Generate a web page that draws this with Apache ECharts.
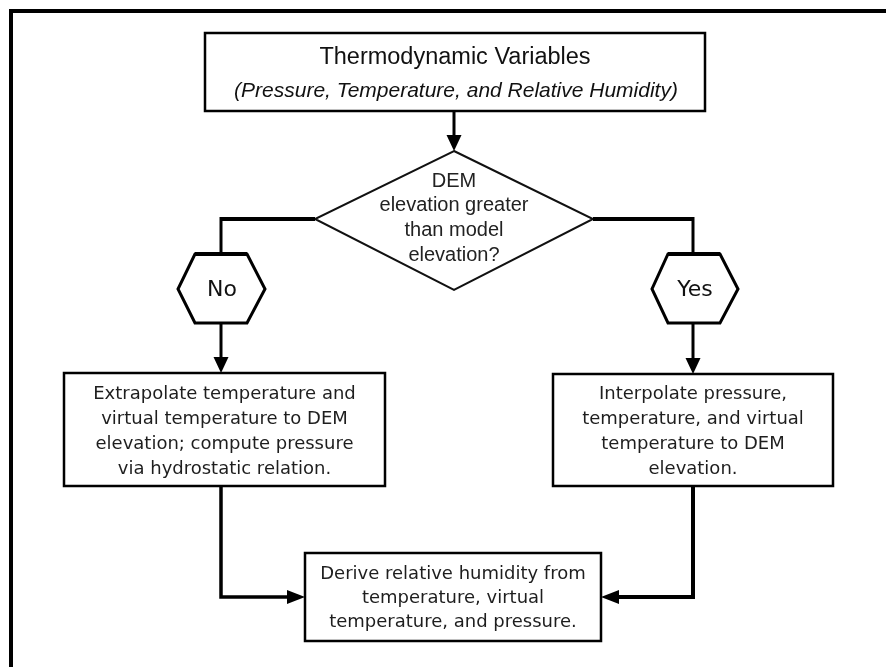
<!DOCTYPE html>
<html>
<head>
<meta charset="utf-8">
<script src="https://cdn.jsdelivr.net/npm/echarts@6/dist/echarts.min.js"></script>
<style>html,body{margin:0;padding:0;background:#fff}#c{width:886px;height:667px}</style>
</head>
<body>
<div id="c"></div>
<script>
// ---- content (text of the flowchart) ----
const titleLines = ['Thermodynamic Variables', '(Pressure, Temperature, and Relative Humidity)'];
const decisionLines = ['DEM', 'elevation greater', 'than model', 'elevation?'];
const branchLabels = ['No', 'Yes'];
const leftStepLines = ['Extrapolate temperature and', 'virtual temperature to DEM', 'elevation; compute pressure', 'via hydrostatic relation.'];
const rightStepLines = ['Interpolate pressure,', 'temperature, and virtual', 'temperature to DEM', 'elevation.'];
const finalStepLines = ['Derive relative humidity from', 'temperature, virtual', 'temperature, and pressure.'];

// ---- layout (pixels) ----
const L = {
  top: {x: 205, y: 33, w: 500, h: 78},
  dia: {cx: 454, top: 151, bottom: 290, left: 315, right: 593, cy: 219},
  no: {cx: 221, top: 254, bottom: 323, l: 178, r: 265, tl: 195, tr: 247, cy: 289},
  yes: {cx: 693, top: 254, bottom: 323, l: 652, r: 738, tl: 668, tr: 720, cy: 289},
  lbox: {x: 64, y: 373, w: 321, h: 113},
  rbox: {x: 553, y: 374, w: 280, h: 112},
  fbox: {x: 305, y: 553, w: 296, h: 88},
  joinY: 597
};
const BODY = '18px "DejaVu Sans", Verdana, sans-serif';
const INK = '#000';
const TXT = '#1e1e1e';

const els = [];
function line(pts, w) { els.push({type: 'polyline', shape: {points: pts}, style: {stroke: INK, lineWidth: w, fill: null, lineJoin: 'miter'}, silent: true}); }
function tri(pts) { els.push({type: 'polygon', shape: {points: pts}, style: {fill: INK, stroke: null}, silent: true}); }
function box(b, w) { els.push({type: 'rect', shape: {x: b.x, y: b.y, width: b.w, height: b.h}, style: {fill: '#fff', stroke: INK, lineWidth: w}, silent: true}); }
function text(str, x, y, font, color) {
  els.push({type: 'text', x: x, y: y, style: {text: str, font: font, fill: color || TXT, align: 'center', verticalAlign: 'middle', textAlign: 'center', textVerticalAlign: 'middle'}, silent: true});
}
function lines(arr, cx, y0, step, font, color) { arr.forEach((s, i) => text(s, cx, y0 + i * step, font, color)); }
function hex(h) {
  els.push({type: 'polygon', shape: {points: [[h.tl, h.top], [h.tr, h.top], [h.r, h.cy], [h.tr, h.bottom], [h.tl, h.bottom], [h.l, h.cy]]}, style: {fill: '#fff', stroke: INK, lineWidth: 3, lineJoin: 'miter'}, silent: true});
  line([[h.tl, h.top], [h.tr, h.top]], 4);
}
function arrowDown(x, y0, tip) { line([[x, y0], [x, tip - 14]], 3); tri([[x - 7.5, tip - 16], [x + 7.5, tip - 16], [x, tip]]); }

// outer frame
line([[11, 667], [11, 11], [886, 11]], 4);

// top box
box(L.top, 2.5);
text(titleLines[0], 455, 58, '23.5px "Liberation Sans", Arial, sans-serif', '#111');
text(titleLines[1], 456, 91, 'italic 21px "Liberation Sans", Arial, sans-serif', '#111');

// arrow to diamond
arrowDown(L.dia.cx, L.top.y + L.top.h, L.dia.top);

// diamond
els.push({type: 'polygon', shape: {points: [[L.dia.cx, L.dia.top], [L.dia.right, L.dia.cy], [L.dia.cx, L.dia.bottom], [L.dia.left, L.dia.cy]]}, style: {fill: '#fff', stroke: '#111', lineWidth: 2}, silent: true});
lines(decisionLines, L.dia.cx, 181, 24.7, '20px "Liberation Sans", Arial, sans-serif', '#222');

// branches
line([[L.dia.left, L.dia.cy], [L.no.cx, L.dia.cy]], 4);
line([[L.no.cx, L.dia.cy - 2], [L.no.cx, L.no.top]], 3);
line([[L.dia.right, L.dia.cy], [L.yes.cx, L.dia.cy]], 4);
line([[L.yes.cx, L.dia.cy - 2], [L.yes.cx, L.yes.top]], 3);
hex(L.no); hex(L.yes);
text(branchLabels[0], L.no.cx + 1, L.no.cy + 1, '22px "DejaVu Sans", Verdana, sans-serif', '#111');
text(branchLabels[1], L.yes.cx + 2, L.yes.cy + 1, '22px "DejaVu Sans", Verdana, sans-serif', '#111');

arrowDown(L.no.cx, L.no.bottom, L.lbox.y);
arrowDown(L.yes.cx, L.yes.bottom, L.rbox.y);

// step boxes
box(L.lbox, 2.5);
lines(leftStepLines, L.lbox.x + L.lbox.w / 2, 394, 25, BODY);
box(L.rbox, 2.5);
lines(rightStepLines, L.rbox.x + L.rbox.w / 2, 394, 25, BODY);

// joins to final box
line([[L.no.cx, L.lbox.y + L.lbox.h], [L.no.cx, L.joinY], [L.fbox.x - 14, L.joinY]], 3.5);
tri([[L.fbox.x - 18, L.joinY - 7], [L.fbox.x - 18, L.joinY + 7], [L.fbox.x, L.joinY]]);
line([[L.yes.cx, L.rbox.y + L.rbox.h], [L.yes.cx, L.joinY], [L.fbox.x + L.fbox.w + 14, L.joinY]], 4);
tri([[L.fbox.x + L.fbox.w + 18, L.joinY - 7], [L.fbox.x + L.fbox.w + 18, L.joinY + 7], [L.fbox.x + L.fbox.w, L.joinY]]);

box(L.fbox, 2.5);
lines(finalStepLines, L.fbox.x + L.fbox.w / 2, 574, 24, BODY);

const chart = echarts.init(document.getElementById('c'), null, {renderer: 'canvas'});
chart.setOption({backgroundColor: '#fff', animation: false, graphic: {elements: els}});
</script>
</body>
</html>
